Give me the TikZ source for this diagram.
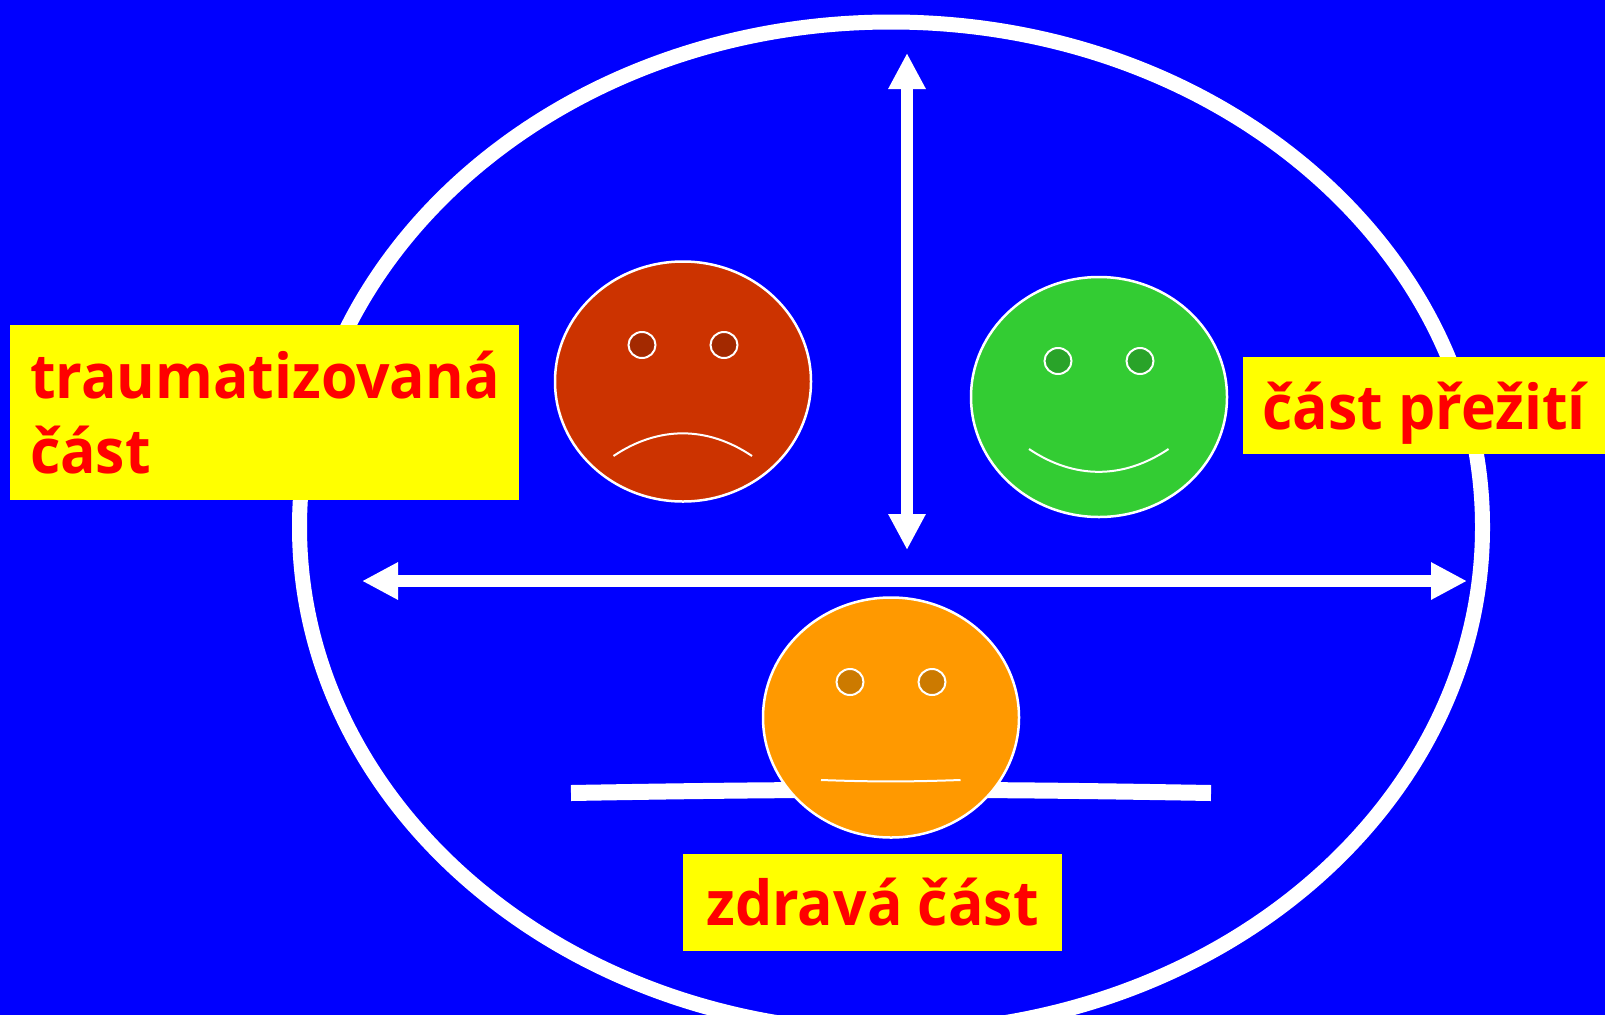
\documentclass[tikz,border=0pt]{standalone}
\usepackage{fontspec}
\usepackage{xcolor}
\usetikzlibrary{arrows.meta,shapes.geometric,positioning}
\setmainfont[FakeStretch=0.95]{Open Sans}
\definecolor{slideblue}{HTML}{0000FF}
\definecolor{labelyellow}{HTML}{FFFF00}
\definecolor{labelred}{HTML}{FF0000}
\definecolor{facered}{HTML}{CC3300}
\definecolor{eyered}{HTML}{A32900}
\definecolor{facegreen}{HTML}{33CC33}
\definecolor{eyegreen}{HTML}{29A329}
\definecolor{faceorange}{HTML}{FF9900}
\definecolor{eyeorange}{HTML}{CC7A00}
\tikzset{
    face/.style={ellipse, draw=white, line width=2.5pt, minimum width=256pt, minimum height=240pt, inner sep=0pt},
    eyeball/.style={ellipse, draw=white, line width=2pt, minimum width=27pt, minimum height=26pt, inner sep=0pt, node distance=82pt},
    label/.style={rectangle, fill=labelyellow, text=labelred, font=\fontsize{62}{75}\selectfont\bfseries, inner sep=0pt, align=left},
    mouth/.style={draw=white, line width=2pt},
    thickarrow/.style={white, line width=12pt, <->, >={Triangle[length=36pt,width=35pt]}}
}

\begin{document}
\begin{tikzpicture}[x=1pt, y=-1pt]
            \useasboundingbox (0,0) rectangle (1605,1015);
            \clip (0,0) rectangle (1605,1015);
            \fill[slideblue] (0,0) rectangle (1605,1015);
            \node[ellipse, draw=white, line width=15pt, minimum width=1183pt, minimum height=1010pt, inner sep=0pt] (outer) at (891,527) {};
            % crossing arrows
            \coordinate (top) at (907,53);
            \coordinate (bottom) at (907,550);
            \coordinate (left) at (362,581);
            \coordinate (right) at (1467,581);
            \draw[thickarrow] (top) -- (bottom);
            \draw[thickarrow] (left) -- (right);
            % ground line
            \coordinate (groundL) at (571,793);
            \coordinate (groundR) at (1211,793);
            \draw[white, line width=16pt] (groundL) to[bend left=1] (groundR);
            % faces
            \node[face, fill=facered] (red) at (683,381.5) {};
            \node[face, fill=facegreen] (green) at (1099,397) {};
            \node[face, fill=faceorange] (orange) at (891,717.5) {};
            \node[eyeball, fill=eyered] (redL) at (642,345) {};
            \node[eyeball, fill=eyered] (redR) [right of=redL] {};
            \node[eyeball, fill=eyegreen] (greenL) at (1058,361) {};
            \node[eyeball, fill=eyegreen] (greenR) [right of=greenL] {};
            \node[eyeball, fill=eyeorange] (orangeL) at (850,682) {};
            \node[eyeball, fill=eyeorange] (orangeR) [right of=orangeL] {};
            \coordinate (redA) at (613.5,456);
            \coordinate (redB) at (752,456);
            \coordinate (greenA) at (1029,449);
            \coordinate (greenB) at (1168.5,449);
            \coordinate (orangeA) at (821,780);
            \coordinate (orangeB) at (960.5,780);
            \path[mouth] (redA) edge [bend left=34] (redB)
                         (greenA) edge [bend right=34] (greenB)
                         (orangeA) edge [bend right=2] (orangeB);
            % labels
            \node[label, minimum width=509pt, minimum height=175pt, text width=469pt] (traumaLabel) at (264.5,412.5) {traumatizovaná\\část};
            \node[label, minimum width=362pt, minimum height=97pt, text depth=0pt] (survivalLabel) at (1424,405.5) {část přežití};
            \node[label, minimum width=379pt, minimum height=97pt] (healthyLabel) at (872.5,902.5) {zdravá část};
        \end{tikzpicture}
\end{document}
